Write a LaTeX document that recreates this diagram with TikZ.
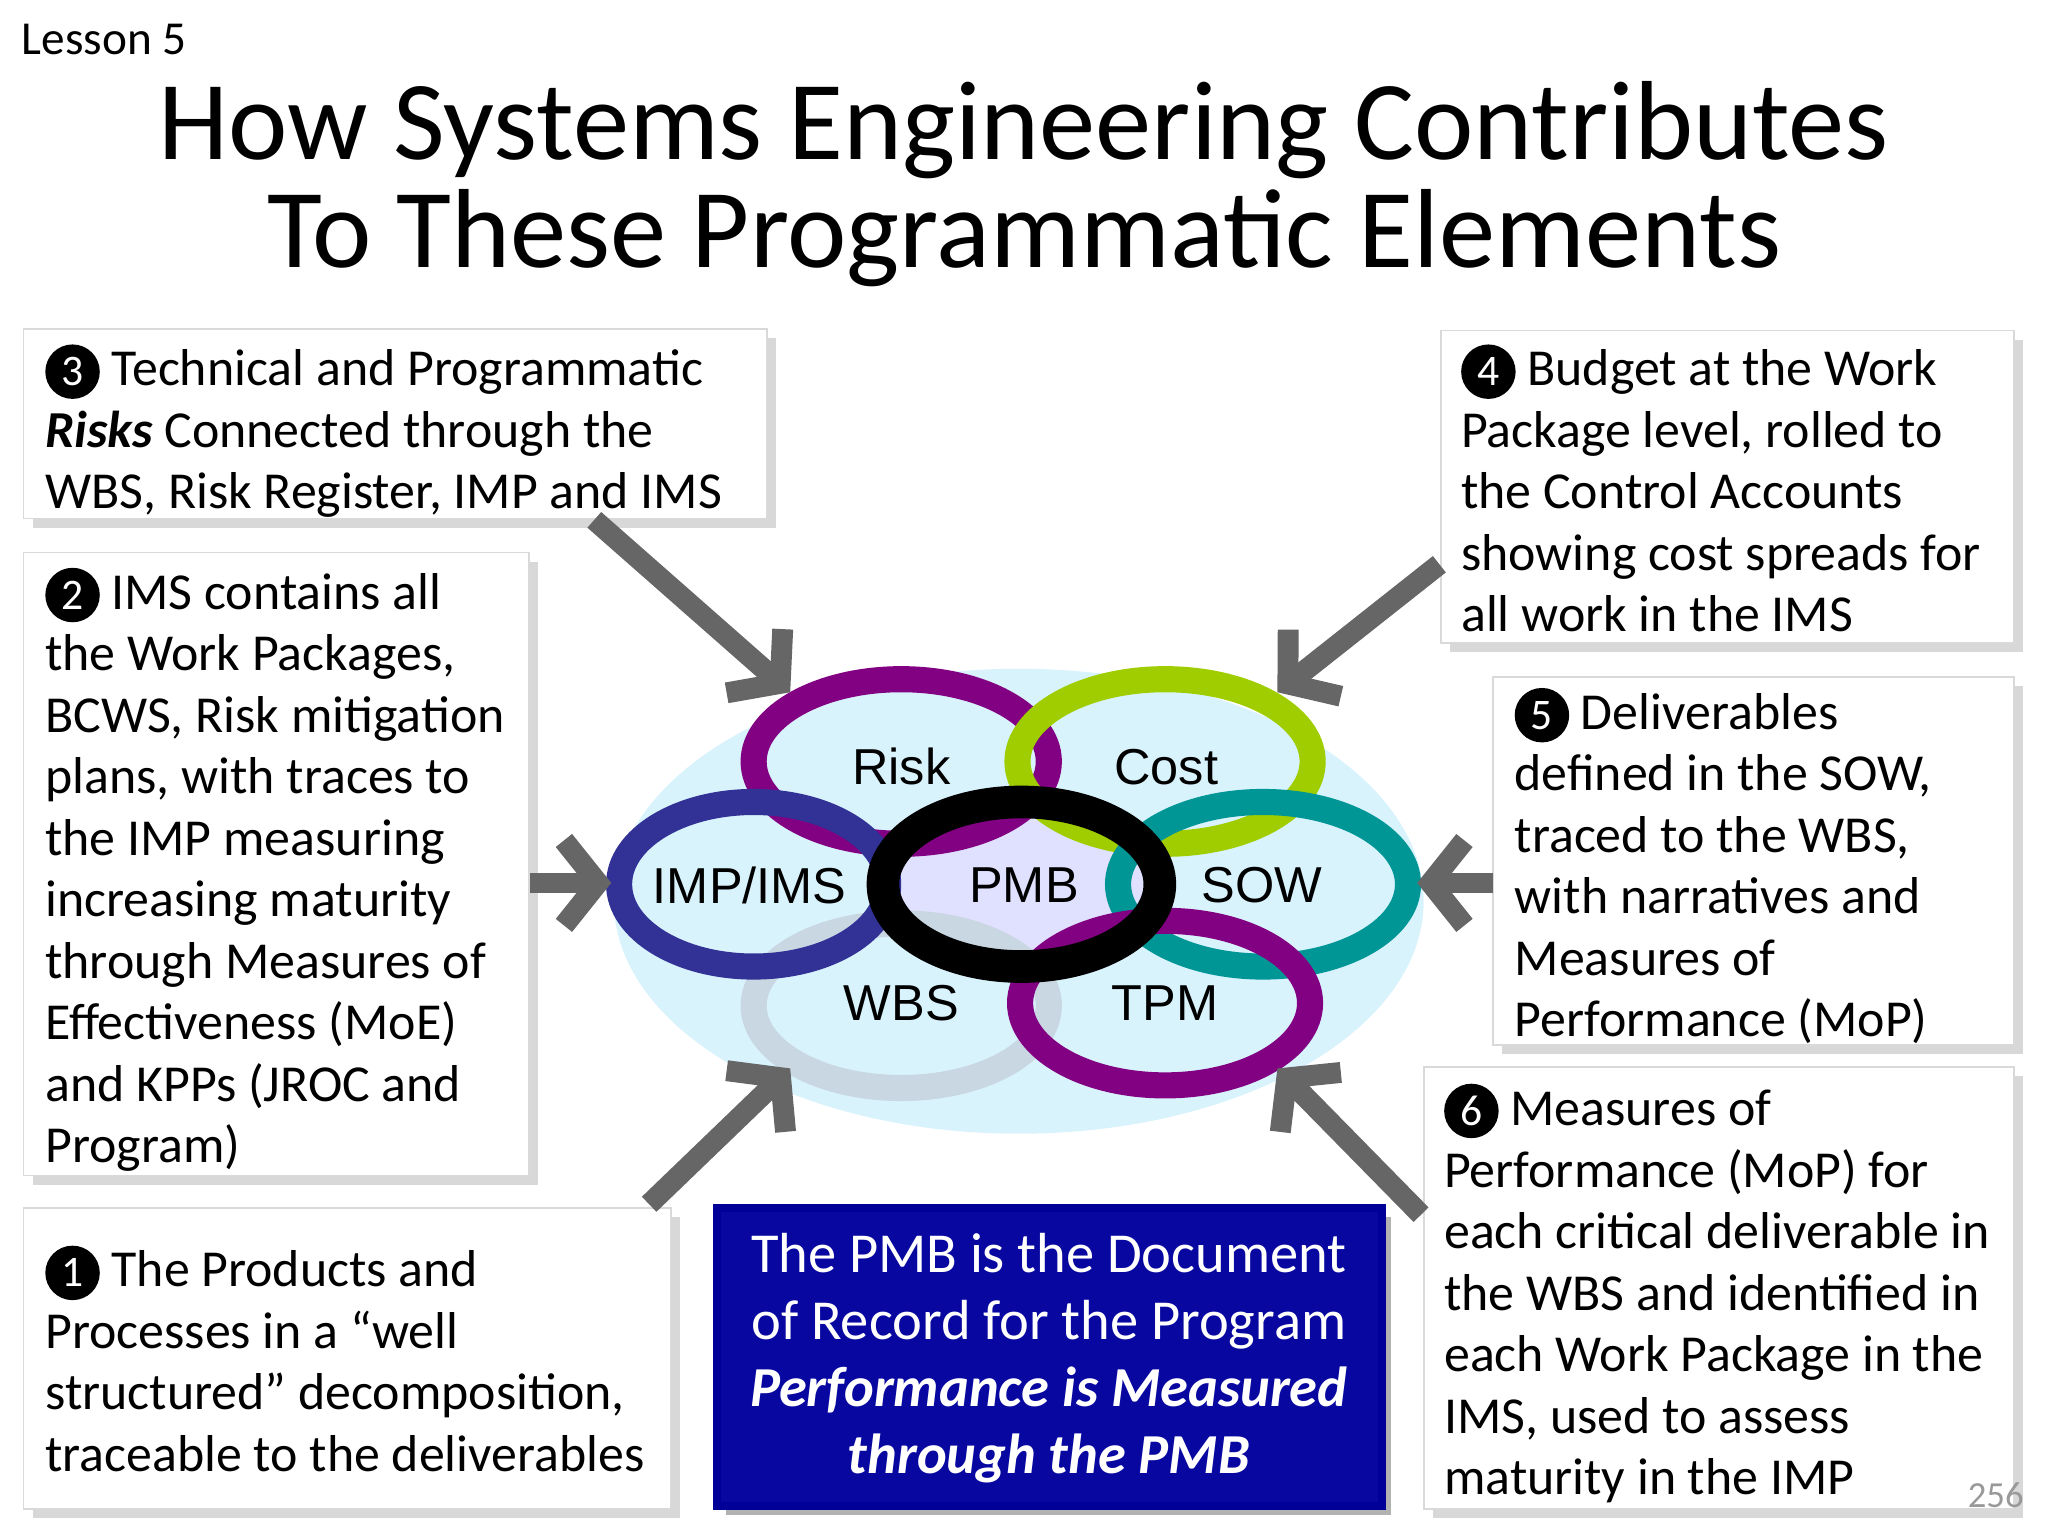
\documentclass[tikz,border=0pt]{standalone}
\usepackage{fontspec}
\setmainfont{Carlito}
\newfontfamily\arl{Liberation Sans}
\usetikzlibrary{shadows,arrows.meta}
\newcommand{\numc}[1]{\tikz[baseline=(nn.base)]\node(nn)[circle,fill=black,text=white,inner sep=0pt,minimum size=1.05em,font=\fontsize{9.5}{10}\selectfont]{#1};}
\begin{document}
\begin{tikzpicture}[x=0.1mm,y=-0.1mm,
  tbox/.style={draw=black!15,fill=white,drop shadow={shadow xshift=0.7mm,shadow yshift=-0.7mm,fill=black!30}},
  txt/.style={anchor=north west,align=left,inner sep=0pt,font=\fontsize{11.3}{13.4}\selectfont},
  arr/.style={draw=black!60,line width=1.6mm,-{Straight Barb[length=2.6mm,width=6.5mm]}},
  ring/.style={line width=2mm},
  lab/.style={font=\arl\fontsize{11}{13}\selectfont}]
\useasboundingbox (0,0) rectangle (1568,1176);
\node[anchor=north west,inner sep=0pt,font=\fontsize{10.3}{11}\selectfont] (les) at (16,18) {Lesson 5};
\node[align=center,font=\fontsize{24.5}{23.5}\selectfont] (title) at (784,141) {How Systems Engineering Contributes\\To These Programmatic Elements};
% background
\fill[cyan!15] (780,690) ellipse (310 and 178);
% boxes
\path[tbox] (18,252) rectangle (587,397);
\node[txt] (b3) at (34,263) {\numc{3} Technical and Programmatic\\\textbf{\textit{Risks}} Connected through the\\WBS, Risk Register, IMP and IMS};
\path[tbox] (18,423) rectangle (405,900);
\node[txt] (b2) at (34,434) {\numc{2} IMS contains all\\the Work Packages,\\BCWS, Risk mitigation\\plans, with traces to\\the IMP measuring\\increasing maturity\\through Measures of\\Effectiveness (MoE)\\and KPPs (JROC and\\Program)};
\path[tbox] (18,925) rectangle (514,1155);
\node[txt] (b1) at (34,953) {\numc{1} The Products and\\Processes in a “well\\structured” decomposition,\\traceable to the deliverables};
\path[tbox] (1103,253) rectangle (1542,492);
\node[txt] (b4) at (1118,263) {\numc{4} Budget at the Work\\Package level, rolled to\\the Control Accounts\\showing cost spreads for\\all work in the IMS};
\path[tbox] (1143,518) rectangle (1542,800);
\node[txt] (b5) at (1159,526) {\numc{5} Deliverables\\defined in the SOW,\\traced to the WBS,\\with narratives and\\Measures of\\Performance (MoP)};
\path[tbox] (1090,817) rectangle (1542,1155);
\node[txt] (b6) at (1105,829) {\numc{6} Measures of\\Performance (MoP) for\\each critical deliverable in\\the WBS and identified in\\each Work Package in the\\IMS, used to assess\\maturity in the IMP};
% centre box
\fill[black!30] (556,932) rectangle (1065,1160);
\draw[fill={rgb,255:red,8;green,8;blue,160},draw=blue!60!black,line width=0.6mm] (549,925) rectangle (1058,1153);
\node[align=center,text=white,font=\fontsize{12.3}{14.6}\selectfont] (pmbtxt) at (803,1040) {The PMB is the Document\\of Record for the Program\\\textbf{\textit{Performance is Measured}}\\\textbf{\textit{through the PMB}}};
% rings
\fill[blue!12] (782,677) ellipse (108 and 65);
\draw[ring,draw={rgb,255:red,200;green,215;blue,225}] (690,770) ellipse (113 and 63);
\draw[ring,draw={rgb,255:red,130;green,0;blue,130}] (690,583) ellipse (113 and 63);
\draw[ring,draw={rgb,255:red,160;green,205;blue,0}] (892,583) ellipse (113 and 63);
\draw[ring,draw={rgb,255:red,50;green,50;blue,150}] (577,677) ellipse (103 and 63);
\draw[ring,draw={rgb,255:red,0;green,150;blue,150}] (967,677) ellipse (111 and 63);
\draw[ring,draw={rgb,255:red,130;green,0;blue,130}] (892,768) ellipse (111 and 63);
\draw[line width=2.5mm] (782,677) ellipse (106 and 63);
\node[lab] (risk) at (690,587) {Risk};
\node[lab] (cost) at (893,587) {Cost};
\node[lab] (imp) at (574,678) {IMP/IMS};
\node[lab] (pmb) at (784,678) {PMB};
\node[lab] (sow) at (966,678) {SOW};
\node[lab] (wbs) at (690,768) {WBS};
\node[lab] (tpm) at (892,768) {TPM};
% arrows
\coordinate (t3) at (605,530); \coordinate (t4) at (978,530);
\coordinate (t2) at (468,676); \coordinate (t5) at (1085,676);
\coordinate (t1) at (605,818); \coordinate (t6) at (978,818);
\coordinate (s3) at (455,398); \coordinate (s4) at (1102,432);
\coordinate (s2) at (406,676); \coordinate (s5) at (1143,676);
\coordinate (s1) at (497,922); \coordinate (s6) at (1088,930);
\draw[arr] (s3) -- (t3);
\draw[arr] (s4) -- (t4);
\draw[arr] (s2) -- (t2);
\draw[arr] (s5) -- (t5);
\draw[arr] (s1) -- (t1);
\draw[arr] (s6) -- (t6);
\node[text=black!40,font=\fontsize{8}{9}\selectfont] (pg) at (1528,1145) {256};
\end{tikzpicture}
\end{document}
